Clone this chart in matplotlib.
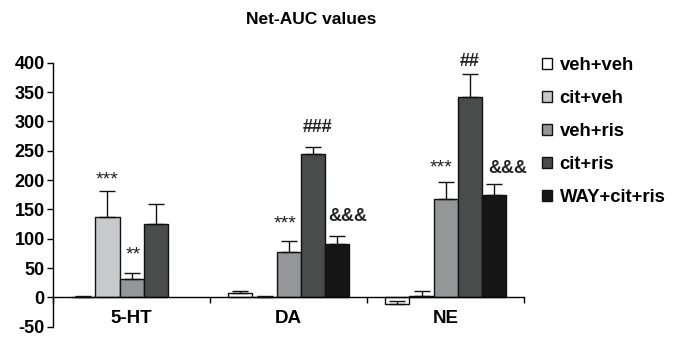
import numpy as np
import matplotlib
matplotlib.use("Agg")
import matplotlib.pyplot as plt
import matplotlib.transforms as mtransforms

plt.rcParams['font.family'] = ['Liberation Sans', 'DejaVu Sans']

# data
categories = ['5-HT', 'DA', 'NE']
groups = ['veh+veh', 'cit+veh', 'veh+ris', 'cit+ris', 'WAY+cit+ris']
colors = ['#ffffff', '#c8c9cb', '#959697', '#4a4b4b', '#151515']
values = {
  'veh+veh':     [1, 8, -11],
  'cit+veh':     [137, 0, 3],
  'veh+ris':     [31, 77, 167],
  'cit+ris':     [125, 244, 342],
  'WAY+cit+ris': [np.nan, 91, 175],
}
errors = {
  'veh+veh':     [2, 3, 4],
  'cit+veh':     [45, 3, 8],
  'veh+ris':     [11, 19, 29],
  'cit+ris':     [34, 13, 38],
  'WAY+cit+ris': [0, 13, 19],
}
# significance marks: (category index, group, label, y of mark, x shift)
marks = [
  (0, 'cit+veh', '***', 212, 0.0),
  (0, 'veh+ris', '**', 84, 0.01),
  (1, 'veh+ris', '***', 137, -0.025),
  (1, 'cit+ris', '###', 289, 0.035),
  (1, 'WAY+cit+ris', '&&&', 137, 0.07),
  (2, 'veh+ris', '***', 231, -0.03),
  (2, 'cit+ris', '##', 402, 0.0),
  (2, 'WAY+cit+ris', '&&&', 219, 0.09),
]

fig = plt.figure(figsize=(6.78, 3.38), dpi=100)
ax = fig.add_axes([0.0782, 0.0334, 0.6947, 0.7811])

x = np.arange(len(categories))
width = 0.153
offsets = (np.arange(len(groups)) - 2) * width

for i, g in enumerate(groups):
  vals = np.array(values[g], dtype=float)
  err = np.array(errors[g], dtype=float)
  ax.bar(x + offsets[i], vals, width, color=colors[i], edgecolor='#111111',
         linewidth=1.0, label=g, zorder=2)
  # Excel style: only the "plus" error is drawn
  ok = ~np.isnan(vals)
  ax.errorbar((x + offsets[i])[ok], vals[ok], yerr=[np.zeros(ok.sum()), err[ok]],
              fmt='none', ecolor='#111111', elinewidth=1.0, capsize=5.5,
              capthick=1.0, zorder=3)

for ci, g, lab, ypos, dx in marks:
  gi = groups.index(g)
  xp = x[ci] + offsets[gi] + dx
  if '*' in lab:
    # asterisk glyph sits high, so put its baseline below the mark centre
    tr = ax.transData + mtransforms.ScaledTranslation(0, -8 / 72, fig.dpi_scale_trans)
    ax.text(xp, ypos, lab, ha='center', va='baseline', fontsize=14,
            color='#222222', transform=tr)
  else:
    ax.text(xp, ypos, lab, ha='center', va='center', fontsize=13,
            fontweight='bold', color='#222222')

ax.set_xlim(-0.5, 2.5)
ax.set_ylim(-50, 400)
ax.set_yticks(np.arange(-50, 401, 50))
ax.set_yticklabels([str(v) for v in range(-50, 401, 50)], fontsize=13,
                   fontweight='bold')
ax.tick_params(axis='y', direction='out', length=4, width=1, pad=2)

ax.spines['top'].set_visible(False)
ax.spines['right'].set_visible(False)
ax.spines['bottom'].set_position(('data', 0))
ax.spines['left'].set_linewidth(1)
ax.spines['bottom'].set_linewidth(1)
ax.set_xticks([-0.5, 0.5, 1.5, 2.5])
ax.set_xticklabels([])
ax.tick_params(axis='x', direction='out', length=4, width=1)

for i, c in enumerate(categories):
  ax.text(x[i], -36, c, ha='center', va='center', fontsize=13.5,
          fontweight='bold')

fig.text(0.4587, 0.942, 'Net-AUC values', ha='center', va='center',
         fontsize=12.5, fontweight='bold')

fig.legend(loc='upper left', bbox_to_anchor=(0.7994, 0.832), frameon=False,
           prop={'size': 13.3, 'weight': 'bold'}, handlelength=0.55,
           handleheight=0.55, handletextpad=0.4, labelspacing=0.87,
           borderaxespad=0, borderpad=0)

fig.savefig('out.png', dpi=100)
